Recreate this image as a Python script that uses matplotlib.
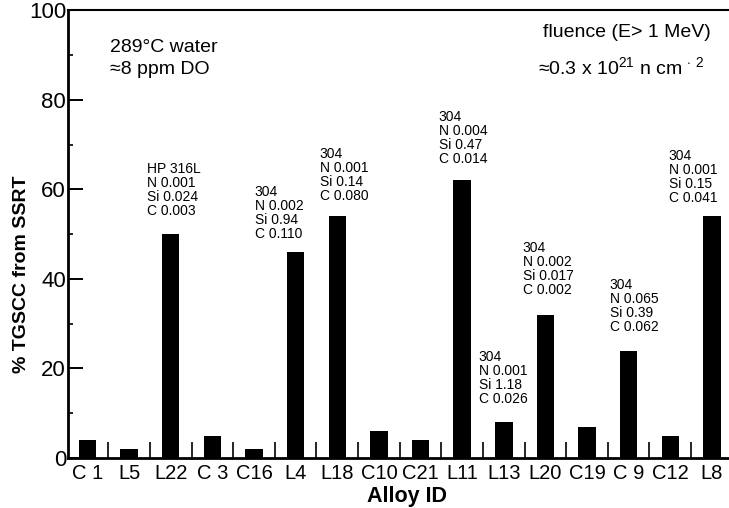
import matplotlib.pyplot as plt
from matplotlib.ticker import FixedLocator, MultipleLocator

plt.rcParams['font.family'] = ['Liberation Sans', 'DejaVu Sans']
plt.rcParams['mathtext.fontset'] = 'custom'
plt.rcParams['mathtext.rm'] = 'Liberation Sans'

alloys = ['C 1', 'L5', 'L22', 'C 3', 'C16', 'L4', 'L18', 'C10',
          'C21', 'L11', 'L13', 'L20', 'C19', 'C 9', 'C12', 'L8']
tgscc = [4, 2, 50, 5, 2, 46, 54, 6, 4, 62, 8, 32, 7, 24, 5, 54]

# composition notes: alloy, text, x shift from bar centre, top of block (%)
notes = [
    ('L22', 'HP 316L\nN 0.001\nSi 0.024\nC 0.003', -0.57, 66.2),
    ('L4', '304\nN 0.002\nSi 0.94\nC 0.110', -0.98, 61.0),
    ('L18', '304\nN 0.001\nSi 0.14\nC 0.080', -0.42, 69.4),
    ('L11', '304\nN 0.004\nSi 0.47\nC 0.014', -0.56, 77.6),
    ('L13', '304\nN 0.001\nSi 1.18\nC 0.026', -0.60, 24.1),
    ('L20', '304\nN 0.002\nSi 0.017\nC 0.002', -0.55, 48.4),
    ('C 9', '304\nN 0.065\nSi 0.39\nC 0.062', -0.46, 40.1),
    ('L8', '304\nN 0.001\nSi 0.15\nC 0.041', -1.04, 69.1),
]

fig = plt.figure(figsize=(7.29, 5.08), dpi=100)
ax = fig.add_axes([0.0926, 0.0984, 0.9074, 0.8816])

x = list(range(len(alloys)))
ax.bar(x, tgscc, width=0.42, color='black')

ax.set_xlim(-0.48, len(alloys) - 0.59)
ax.set_ylim(0, 100)

ax.xaxis.set_major_locator(FixedLocator(x))
ax.set_xticklabels(alloys, fontsize=14.5)
ax.xaxis.set_minor_locator(FixedLocator([i + 0.5 for i in range(len(alloys) - 1)]))
ax.tick_params(axis='x', which='major', length=0, pad=4)
ax.tick_params(axis='x', which='minor', direction='in', length=11.5, width=1.2)

ax.yaxis.set_major_locator(MultipleLocator(20))
ax.yaxis.set_minor_locator(MultipleLocator(10))
ax.tick_params(axis='y', which='major', direction='in', length=11, width=1.4,
               labelsize=16, pad=1)
ax.tick_params(axis='y', which='minor', direction='in', length=3.5, width=1.2)

ax.spines['right'].set_visible(False)
ax.spines['left'].set_linewidth(2)
ax.spines['bottom'].set_linewidth(2)
ax.spines['top'].set_linewidth(1.5)

ax.set_ylabel('% TGSCC from SSRT', fontsize=14, fontweight='bold', labelpad=4)
ax.yaxis.set_label_coords(-0.056, 0.41)
ax.set_xlabel('Alloy ID', fontsize=15.5, fontweight='bold', labelpad=0)
ax.xaxis.set_label_coords(0.513, -0.063)

for name, txt, dx, ytop in notes:
    i = alloys.index(name)
    ax.text(i + dx, ytop, txt, fontsize=10, va='top', ha='left',
            linespacing=1.0)

ax.text(0.064, 0.935, '289°C water\n≈8 ppm DO', transform=ax.transAxes,
        fontsize=14, va='top', ha='left', linespacing=1.35)
ax.text(0.972, 0.97, 'fluence (E> 1 MeV)', transform=ax.transAxes,
        fontsize=14, va='top', ha='right')
ax.text(0.962, 0.855, r'≈0.3 x 10$^{21}$ n cm$^{\,\cdot\,2}$',
        transform=ax.transAxes, fontsize=14, va='baseline', ha='right')

fig.savefig('out.png', dpi=100)
